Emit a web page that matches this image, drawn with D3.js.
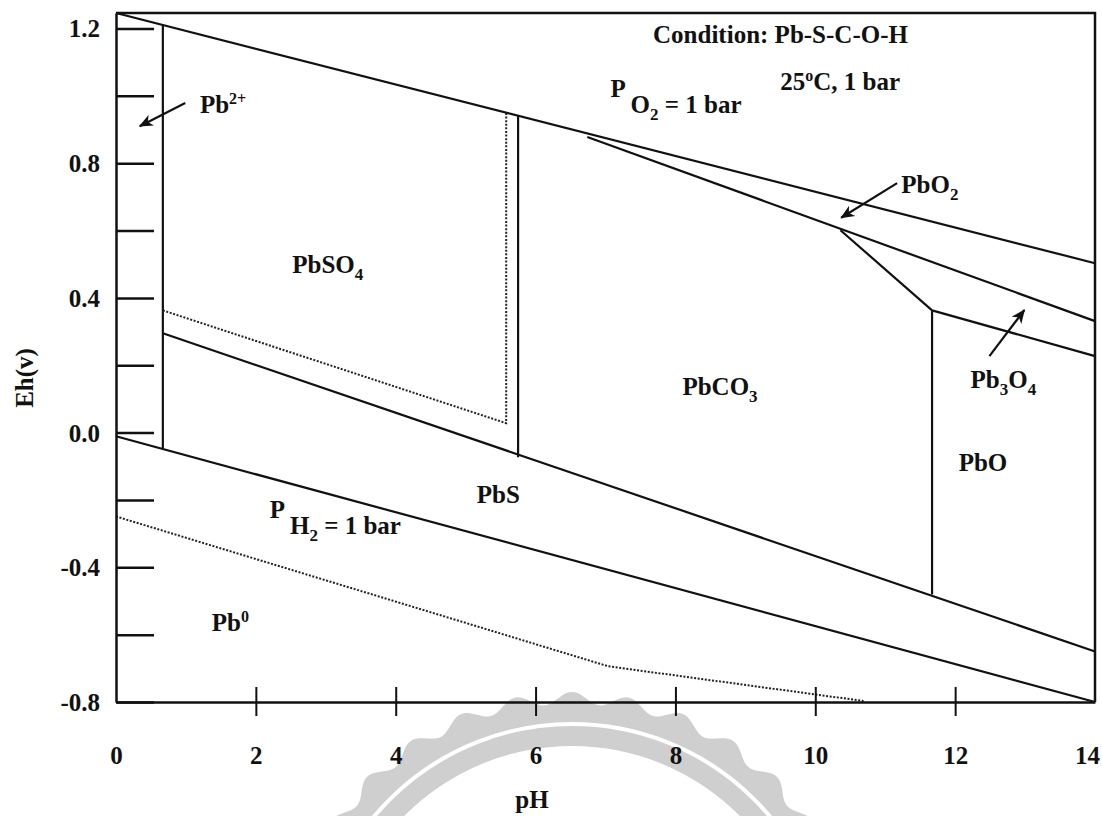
<!DOCTYPE html>
<html>
<head>
<meta charset="utf-8">
<script src="https://cdn.jsdelivr.net/npm/d3@7"></script>
<style>
  body { margin: 0; background: #fff; }
  svg { display: block; }
  text { font-family: "Liberation Serif", "Times New Roman", serif; font-weight: bold; fill: #111; }
</style>
</head>
<body>
<svg id="chart" width="1102" height="816"></svg>
<script>
// ---- axis ticks ----
const pHTicks = [0, 2, 4, 6, 8, 10, 12, 14];
const ehMajor = [1.2, 0.8, 0.4, 0.0, -0.4, -0.8];
const ehMajorLabels = ["1.2", "0.8", "0.4", "0.0", "-0.4", "-0.8"];
const ehMinor = [1.0, 0.6, 0.2, -0.2, -0.6];

// ---- solid stability-field boundaries, [pH, Eh] ----
const waterO2     = [[0, 1.246], [14, 0.503]];
const waterH2     = [[0, -0.011], [14, -0.800]];
const pb2PbSO4    = [[0.67, 1.211], [0.67, -0.048]];
const pbso4PbCO3  = [[5.75, 0.942], [5.75, -0.073]];
const pbsUpper    = [[0.67, 0.295], [14, -0.650]];
const pbo2Lower   = [[6.74, 0.878], [14, 0.331]];
const pbco3Pb3o4  = [[10.36, 0.601], [11.67, 0.363]];
const pbco3PbO    = [[11.67, 0.363], [11.67, -0.481]];
const pb3o4PbO    = [[11.67, 0.363], [14, 0.227]];
const solidLines = [waterO2, waterH2, pb2PbSO4, pbso4PbCO3, pbsUpper,
                    pbo2Lower, pbco3Pb3o4, pbco3PbO, pb3o4PbO];

// ---- dotted boundaries ----
const pbso4Dotted = [[0.67, 0.363], [5.58, 0.028], [5.58, 0.949]];
const pb0Dotted   = [[0, -0.249], [7.04, -0.694], [10.69, -0.797]];
const dottedLines = [pbso4Dotted, pb0Dotted];

// ---- pointer arrows: [tail, head] ----
const arrowPb2   = [[0.99, 0.979], [0.34, 0.910]];
const arrowPbO2  = [[11.17, 0.741], [10.37, 0.638]];
const arrowPb3O4 = [[12.49, 0.227], [12.99, 0.364]];
const arrows = [arrowPb2, arrowPbO2, arrowPb3O4];

// ---- field labels: anchor [pH, Eh] and text runs ----
const fieldLabels = [
  { at: [1.20, 0.949],  runs: [["Pb"], ["2+", "sup"]] },
  { at: [2.52, 0.473],  runs: [["PbSO"], ["4", "sub"]] },
  { at: [8.10, 0.112],  runs: [["PbCO"], ["3", "sub"]] },
  { at: [5.16, -0.210], runs: [["PbS"]] },
  { at: [12.05, -0.115], runs: [["PbO"]] },
  { at: [12.22, 0.132], runs: [["Pb"], ["3", "sub"], ["O", "base"], ["4", "sub"]] },
  { at: [11.23, 0.711], runs: [["PbO"], ["2", "sub"]] },
  { at: [1.37, -0.588], runs: [["Pb"], ["0", "sup"]] },
  { at: [7.07, 0.997],  runs: [["P "], ["O", "low"], ["2", "lowsub"], [" = 1 bar", "low"]] },
  { at: [2.20, -0.254], runs: [["P "], ["H", "low"], ["2", "lowsub"], [" = 1 bar", "low"]] },
  { at: [7.68, 1.157],  runs: [["Condition: Pb-S-C-O-H"]] },
  { at: [9.50, 1.017],  runs: [["25"], ["o", "sup"], ["C, 1 bar"]] }
];

// ---- layout ----
const plot = { left: 116, right: 1095, top: 13, bottom: 702 };
const svg = d3.select("#chart");

const x = d3.scaleLinear().domain([0, 14]).range([plot.left, plot.right]);
const y = d3.scaleLinear().domain([-0.8, 1.246]).range([plot.bottom, plot.top]);

// ---- faint scalloped seal ring in the lower middle ----
(function drawSeal() {
  const cx = 572, cy = 982;
  const g = svg.append("g").attr("transform", `translate(${cx},${cy})`);
  const n = 900, outer = [];
  for (let i = 0; i <= n; i++) {
    const a = (i / n) * 2 * Math.PI;
    const r = 284 + 6 * Math.cos(a * 32);
    outer.push([r * Math.cos(a), r * Math.sin(a)]);
  }
  const ringPath = d3.line()(outer) + "Z" +
    d3.arc()({ innerRadius: 0, outerRadius: 236, startAngle: 0, endAngle: 2 * Math.PI });
  g.append("path").attr("d", ringPath).attr("fill", "#cfcfcf").attr("fill-rule", "evenodd");
  g.append("circle").attr("r", 258).attr("fill", "none").attr("stroke", "#fff").attr("stroke-width", 4);
})();

// ---- boundaries ----
const line = d3.line().x(d => x(d[0])).y(d => y(d[1]));

svg.append("g").selectAll("path").data(solidLines).join("path")
  .attr("d", line).attr("fill", "none").attr("stroke", "#111")
  .attr("stroke-width", 2.2).attr("stroke-linejoin", "round");

svg.append("g").selectAll("path").data(dottedLines).join("path")
  .attr("d", line).attr("fill", "none").attr("stroke", "#222")
  .attr("stroke-width", 2).attr("stroke-dasharray", "2,1.6");

// ---- frame (top and right edges) ----
svg.append("path")
  .attr("d", `M${x(0)},${y(1.246)}H${x(14)}V${y(-0.8)}`)
  .attr("fill", "none").attr("stroke", "#111").attr("stroke-width", 2.5);

// ---- y axis ----
const yAxis = d3.axisLeft(y)
  .tickValues(ehMajor.concat(ehMinor))
  .tickSizeInner(-38).tickSizeOuter(0).tickPadding(16)
  .tickFormat(d => { const i = ehMajor.indexOf(d); return i >= 0 ? ehMajorLabels[i] : ""; });
const gy = svg.append("g").attr("transform", `translate(${plot.left},0)`).call(yAxis);
gy.select(".domain").attr("stroke", "#111").attr("stroke-width", 2.5);
gy.selectAll(".tick line").attr("stroke", "#111").attr("stroke-width", 2.5);
gy.selectAll(".tick text").attr("font-family", null).attr("font-size", null)
  .style("font-size", "25px").attr("dy", "0.34em");

// ---- x axis ----
const xAxis = d3.axisBottom(x).tickValues(pHTicks)
  .tickSizeInner(14).tickSizeOuter(0).tickPadding(30).tickFormat(d3.format("d"));
const gx = svg.append("g").attr("transform", `translate(0,${plot.bottom})`).call(xAxis);
gx.select(".domain").attr("stroke", "#111").attr("stroke-width", 2.5);
gx.selectAll(".tick line").attr("stroke", "#111").attr("stroke-width", 2)
  .attr("y1", -15).attr("y2", 14)
  .attr("display", d => (d === 0 || d === 14) ? "none" : null);
gx.selectAll(".tick text").attr("font-family", null).attr("font-size", null)
  .style("font-size", "25px")
  .attr("dx", d => d === 14 ? -8 : 0);

// ---- axis titles ----
svg.append("text").attr("transform", `translate(33,378) rotate(-90)`)
  .attr("text-anchor", "middle").style("font-size", "25px").text("Eh(v)");
svg.append("text").attr("x", 532).attr("y", 808)
  .attr("text-anchor", "middle").style("font-size", "25px").text("pH");

// ---- arrows ----
svg.append("defs").append("marker")
  .attr("id", "head").attr("viewBox", "0 -6 14 12")
  .attr("refX", 13).attr("refY", 0)
  .attr("markerUnits", "userSpaceOnUse")
  .attr("markerWidth", 15).attr("markerHeight", 12).attr("orient", "auto")
  .append("path").attr("d", "M0,-6L14,0L0,6L4,0Z").attr("fill", "#111");

svg.append("g").selectAll("path").data(arrows).join("path")
  .attr("d", line).attr("fill", "none").attr("stroke", "#111")
  .attr("stroke-width", 2.2).attr("marker-end", "url(#head)");

// ---- field labels ----
const shift = { sup: -9, sub: 7, low: 16, lowsub: 23, base: 0 };
const small = { sup: "16px", sub: "17px", lowsub: "17px" };
fieldLabels.forEach(lab => {
  const t = svg.append("text").attr("x", x(lab.at[0])).attr("y", y(lab.at[1]))
    .style("font-size", "25px");
  let cur = 0;
  lab.runs.forEach(([s, kind]) => {
    const target = shift[kind || "base"] || 0;
    t.append("tspan").attr("dy", target - cur)
      .style("font-size", small[kind] || "25px")
      .text(s);
    cur = target;
  });
});
</script>
</body>
</html>
